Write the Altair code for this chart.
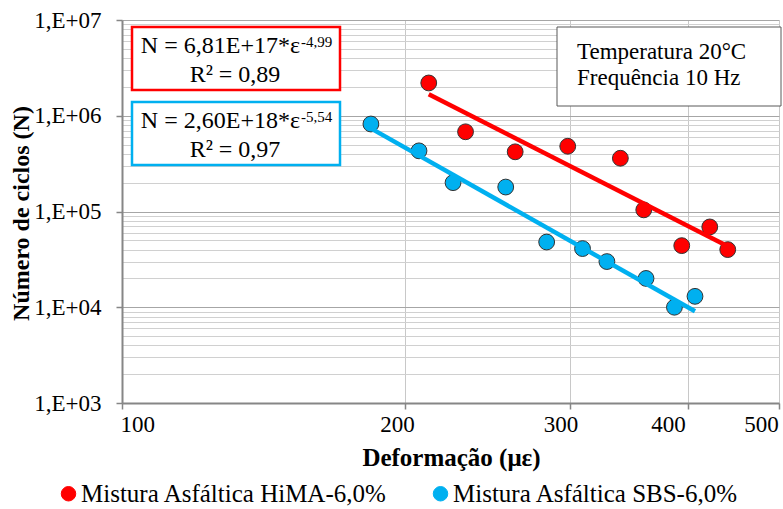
import altair as alt
import pandas as pd

# Fatigue results: tensile strain (με) vs number of cycles to failure
hima_strain = [212, 232, 262, 298, 339, 359, 394, 422, 441]
hima_cycles = [2.2e6, 6.8e5, 4.2e5, 4.8e5, 3.6e5, 1.04e5, 4.4e4, 6.9e4, 4.0e4]
sbs_strain = [184, 207, 225, 256, 283, 309, 328, 361, 387, 407]
sbs_cycles = [8.2e5, 4.3e5, 2.0e5, 1.8e5, 4.8e4, 4.1e4, 3.0e4, 2.0e4, 1.0e4, 1.3e4]

series_names = ["Mistura Asfáltica HiMA-6,0%", "Mistura Asfáltica SBS-6,0%"]
series_colors = ["#FF0000", "#00B0F0"]

# Power-law fits N = k * ε^n
fit_k = [6.81e17, 2.60e18]
fit_n = [-4.99, -5.54]
fit_r2 = ["0,89", "0,97"]

test_info = ["Temperatura 20°C", "Frequência 10 Hz"]

x_ticks = [100, 200, 300, 400, 500]
y_all = [k * 10 ** d for d in range(3, 7) for k in range(1, 10)] + [10 ** 7]

FONT = "Liberation Serif"

points = pd.concat([
    pd.DataFrame({"strain": hima_strain, "cycles": hima_cycles, "series": series_names[0]}),
    pd.DataFrame({"strain": sbs_strain, "cycles": sbs_cycles, "series": series_names[1]}),
])

# Trend lines evaluated from the fitted equations over each series' strain range
trend_rows = []
for name, xs, k, n in zip(series_names, [hima_strain, sbs_strain], fit_k, fit_n):
    for x in (min(xs), max(xs)):
        trend_rows.append({"strain": x, "cycles": k * x ** n, "series": name})
trend = pd.DataFrame(trend_rows)

MAJOR = "indexof([1000,10000,100000,1000000,10000000], datum.value) >= 0"

x_enc = alt.X(
    "strain:Q",
    scale=alt.Scale(type="log", domain=[100, 500], nice=False),
    axis=alt.Axis(
        values=x_ticks,
        format="d",
        title="Deformação (με)",
        titleFont=FONT, titleFontSize=25, titleFontWeight="bold", titleColor="black",
        titleAlign="center", titleBaseline="alphabetic", titleX=329, titleY=62,
        labelFont=FONT, labelFontSize=23, labelColor="black", labelPadding=4,
        labelAlign={"condition": {"test": "datum.value == 100", "value": "left"}, "value": "center"},
        labelOffset={"condition": [
            {"test": "datum.value == 100", "value": -2},
            {"test": "datum.value == 200", "value": -8},
            {"test": "datum.value == 300", "value": -10},
            {"test": "datum.value == 400", "value": -20},
        ], "value": -18},
        labelFlush=False, labelOverlap=False,
        domainColor="#868686", domainWidth=2,
        tickColor="#868686", tickSize=6, tickWidth=1.5,
        gridColor="#c8c8c8", gridWidth=1,
    ),
)

y_enc = alt.Y(
    "cycles:Q",
    scale=alt.Scale(type="log", domain=[1e3, 1e7], nice=False),
    axis=alt.Axis(
        values=y_all,
        labelExpr=f"{MAJOR} ? '1,E+0' + round(log(datum.value) / LN10) : ''",
        title="Número de ciclos (N)",
        titleFont=FONT, titleFontSize=24, titleFontWeight="bold", titleColor="black",
        titleAngle=-90, titleAlign="center", titleBaseline="alphabetic", titleX=-94, titleY=193,
        labelFont=FONT, labelFontSize=23, labelColor="black", labelPadding=15,
        labelOverlap=False, labelFlush=False,
        domainColor="#868686", domainWidth=2,
        tickColor="#868686", tickSize=6, tickWidth=1.5,
        tickOpacity={"condition": {"test": MAJOR, "value": 1}, "value": 0},
        gridColor={"condition": {"test": MAJOR, "value": "#a6a6a6"}, "value": "#d0d0d0"},
        gridWidth=1,
    ),
)

color_scale = alt.Scale(domain=series_names, range=series_colors)

dots = alt.Chart(points).mark_circle(
    size=250, opacity=1, stroke="#333333", strokeWidth=1
).encode(
    x=x_enc,
    y=y_enc,
    color=alt.Color(
        "series:N", scale=color_scale,
        legend=alt.Legend(
            orient="none", legendX=-66, legendY=461, direction="horizontal",
            title=None, padding=0,
            labelFont=FONT, labelFontSize=25, labelColor="black", labelLimit=400,
            symbolType="circle", symbolSize=210, symbolStrokeColor="#333333",
            symbolStrokeWidth=1, symbolOpacity=1, labelOffset=0, columnPadding=40,
        ),
    ),
)

lines = alt.Chart(trend).mark_line(strokeWidth=4.5).encode(
    x=x_enc, y=y_enc,
    color=alt.Color("series:N", scale=color_scale, legend=None),
    detail="series:N",
)


def box(x1, x2, y1, y2, stroke, width):
    return alt.Chart(pd.DataFrame({"b": [0]})).mark_rect(
        fill="white", stroke=stroke, strokeWidth=width
    ).encode(x=alt.value(x1), x2=alt.value(x2), y=alt.value(y1), y2=alt.value(y2))


def label(text, x, y, size, align):
    return alt.Chart(pd.DataFrame({"t": [text]})).mark_text(
        font=FONT, fontSize=size, align=align, baseline="alphabetic", color="black"
    ).encode(text="t:N", x=alt.value(x), y=alt.value(y))


def fmt_eq(k, n):
    return f"N = {k:.2E}".replace(".", ",") + "*ε", f"{n:.2f}".replace(".", ",")


annotations = []
for i, (top, stroke) in enumerate([(7, series_colors[0]), (82, series_colors[1])]):
    main, sup = fmt_eq(fit_k[i], fit_n[i])
    annotations += [
        box(10, 218, top, top + 63, stroke, 2.5),
        label(main, 178, top + 26, 24, "right"),
        label(sup, 179, top + 20, 15, "left"),
        label(f"R² = {fit_r2[i]}", 113, top + 55, 24, "center"),
    ]

annotations += [
    box(435, 659, 7, 86, "#595959", 1),
    label(test_info[0], 455, 39, 23, "left"),
    label(test_info[1], 455, 65, 23, "left"),
]

chart = alt.layer(dots, lines, *annotations).properties(
    width=657,
    height=383,
    autosize=alt.AutoSizeParams(type="none"),
    padding={"left": 122, "top": 20, "right": 4, "bottom": 106},
    background="white",
).configure_view(stroke=None)

chart.save("out.html", embed_options={"renderer": "svg", "actions": False})
